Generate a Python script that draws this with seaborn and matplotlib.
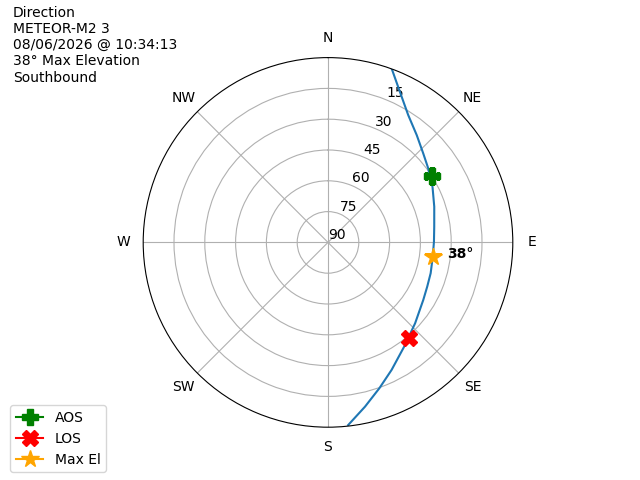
import matplotlib
matplotlib.use('Agg')
import matplotlib.pyplot as plt
import numpy as np
import seaborn as sns

# Data (azimuth deg, elevation deg)
track_az = [20.2, 25.5, 32.2, 39.6, 46.9, 53.5, 62.1, 71.4, 81.6, 89.6,
            97.8, 106.7, 114.0, 121.1, 132.9, 143.9, 153.5, 160.6, 167.3, 173.7]
track_el = [0.0, 8.7, 16.7, 22.2, 26.5, 29.3, 32.4, 35.4, 37.7, 38.4,
            38.5, 37.8, 37.1, 35.8, 32.1, 27.1, 20.6, 14.7, 8.0, 0.5]

aos_az, aos_el = 57.4, 30.0
los_az, los_el = 139.8, 28.8
max_az, max_el = 97.7, 38.3

r_ticks = [0, 15, 30, 45, 60, 75]
r_labels = ['90', '75', '60', '45', '30', '15']
compass = ['N', 'NE', 'E', 'SE', 'S', 'SW', 'W', 'NW']
header = "Direction\nMETEOR-M2 3\n08/06/2026 @ 10:34:13\n38° Max Elevation\nSouthbound"

fig = plt.figure(figsize=(6.4, 4.8), dpi=100)
ax = fig.add_subplot(111, projection='polar')
ax.set_theta_zero_location('N')
ax.set_theta_direction(-1)

# pass track (radius = 90 - elevation)
sns.lineplot(x=np.deg2rad(track_az), y=90 - np.array(track_el), ax=ax,
             sort=False, estimator=None, color='tab:blue', linewidth=1.5)

ax.plot(np.deg2rad(aos_az), 90 - aos_el, marker='P', color='green', markersize=12, label='AOS')
ax.plot(np.deg2rad(los_az), 90 - los_el, marker='X', color='red', markersize=12, label='LOS')
ax.plot(np.deg2rad(max_az), 90 - max_el, marker='*', color='orange', markersize=13, label='Max El')
ax.annotate('38°', (np.deg2rad(max_az), 90 - max_el), xytext=(10, 2),
            textcoords='offset points', ha='left', va='center', fontweight='bold')

ax.set_ylim(0, 90)
ax.set_yticks(r_ticks)
ax.set_yticklabels(r_labels)
ax.set_xticks(np.deg2rad(np.arange(0, 360, 45)))
ax.set_xticklabels(compass)
ax.set_xlabel('')
ax.set_ylabel('')

fig.text(0.02, 0.988, header, ha='left', va='top', fontsize=10)
fig.legend(loc='lower left', bbox_to_anchor=(0.005, 0.002))

fig.savefig('out.png')
